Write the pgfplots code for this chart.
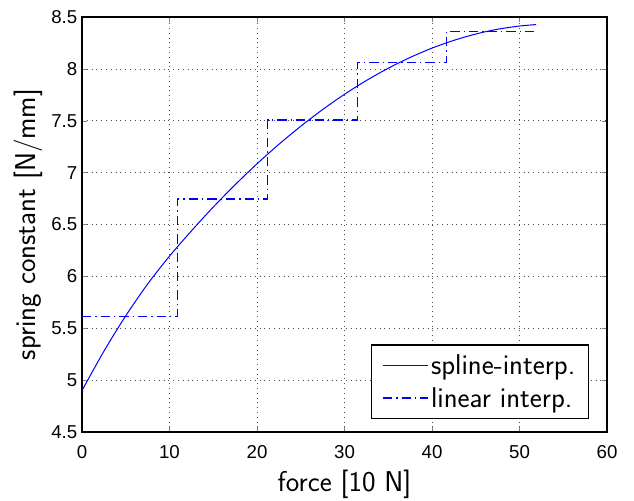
\documentclass[border=0pt]{standalone}
\usepackage{fontspec}
\setmainfont{Liberation Sans}
\usepackage{pgfplots}
\pgfplotsset{compat=1.18}
\definecolor{mblue}{rgb}{0,0,1}
\begin{document}
\begin{tikzpicture}
\begin{axis}[
  name=ax,
  at={(0,0)}, anchor=south west,
  scale only axis,
  width=393.75pt, height=311.25pt,
  xmin=0, xmax=60, ymin=4.5, ymax=8.5,
  xtick={0,10,20,30,40,50,60},
  ytick={4.5,5,5.5,6,6.5,7,7.5,8,8.5},
  yticklabels={4.5,5,5.5,6,6.5,7,7.5,8,8.5},
  /pgf/number format/assume math mode=true,
  tick label style={font=\fontsize{14}{16}\selectfont},
  xticklabel style={yshift=-6.5pt},
  tick align=inside,
  major tick length=4pt,
  axis line style={line width=0.9pt},
  grid=major,
  major grid style={black!70, line width=0.5pt, dash pattern=on 0.6pt off 3pt},
  xlabel={\sffamily\fontsize{21.5}{25}\selectfont force [10 N]},
  ylabel={\sffamily\fontsize{21.5}{25}\selectfont spring constant [N/mm]},
  xlabel style={yshift=-2pt},
  legend style={at={(rel axis cs:1,0)}, anchor=south east, xshift=-13.3pt, yshift=9.75pt,
    font=\sffamily\fontsize{21.5}{25}\selectfont, draw=black, line width=0.9pt, inner xsep=8pt, inner ysep=5pt,
    cells={anchor=west}, row sep=4.25pt},
  legend cell align=left,
  legend image code/.code={\draw[#1] (0pt,0pt) -- (24.5pt,0pt); \path (0pt,0pt) -- (33.5pt,0pt);},
]
\addplot[draw=mblue, line width=0.75pt, smooth] coordinates {
(0,4.9) (2.5,5.278) (5,5.62) (7.5,5.926) (10,6.195) (12.5,6.438) (15,6.668) (17.5,6.883) (20,7.085) (22.5,7.273)
(25,7.447) (27.5,7.608) (30,7.755) (32.5,7.888) (35,8.006) (37.5,8.110) (40,8.200) (42.5,8.275) (45,8.336)
(47.5,8.382) (50,8.413) (51.9,8.427)
};
\addlegendentry{spline-interp.\hspace{8pt}}
\addplot[draw=mblue, line width=1.2pt, dash pattern=on 7pt off 3pt on 1pt off 3pt] coordinates {
(0,5.614) (10.9,5.614) (10.9,6.745) (21.2,6.745) (21.2,7.51) (31.5,7.51) (31.5,8.062) (41.65,8.062) (41.65,8.36) (51.9,8.36)
};
\addlegendentry{linear interp.}
\end{axis}
\pgfresetboundingbox
\path[use as bounding box] (-61.5pt,-51pt) rectangle (414pt,324pt);
\end{tikzpicture}
\end{document}
